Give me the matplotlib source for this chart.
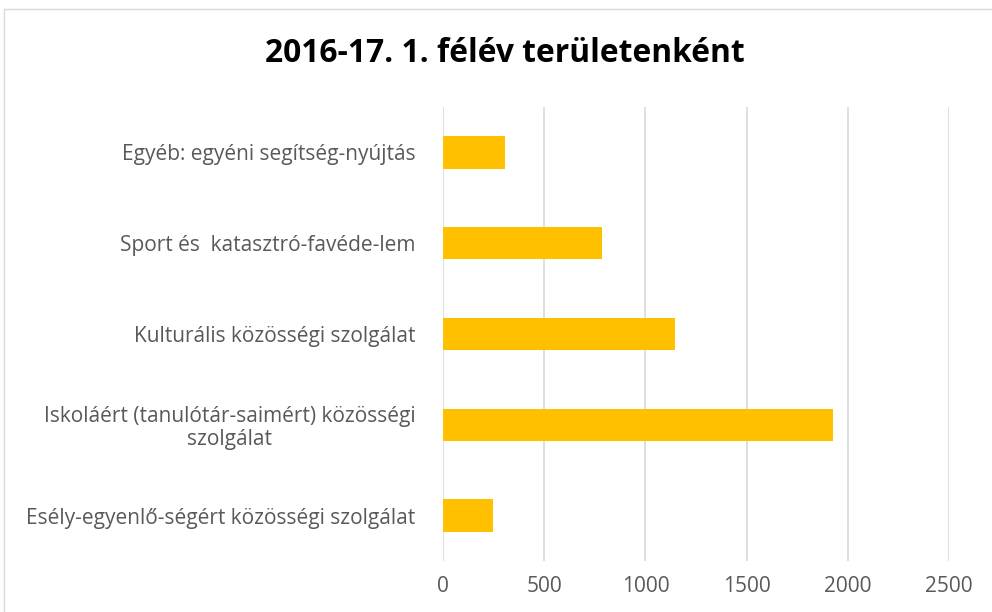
import matplotlib
matplotlib.use("Agg")
import matplotlib.pyplot as plt
from matplotlib.patches import Rectangle

title = "2016-17. 1. félév területenként"
categories = [
    "Esély-egyenlő-ségért közösségi szolgálat",
    "Iskoláért (tanulótár-saimért) közösségi\nszolgálat",
    "Kulturális közösségi szolgálat",
    "Sport és  katasztró-favéde-lem",
    "Egyéb: egyéni segítség-nyújtás",
]
values = [247, 1925, 1148, 785, 307]
xticks = [0, 500, 1000, 1500, 2000, 2500]

W, H = 992, 612
fig = plt.figure(figsize=(W / 100, H / 100), dpi=100)
fig.patch.set_facecolor("white")

# chart border
fig.patches.append(Rectangle((4 / W, -0.05), 1.1, (H - 9) / H + 0.05,
                             transform=fig.transFigure, fill=False,
                             edgecolor="#D9D9D9", linewidth=1.0))

ax = fig.add_axes([443 / W, (H - 561) / H, (949 - 443) / W, (561 - 107) / H])
y = list(range(len(categories)))
ax.barh(y, values, height=0.355, color="#FFC000", zorder=3)
ax.set_xlim(0, 2500)
ax.set_ylim(-0.5, len(categories) - 0.5)
ax.set_xticks(xticks)
ax.set_xticklabels([str(t) for t in xticks])
ax.set_yticks(y)
ax.set_yticklabels(categories, multialignment="center", linespacing=1.1)
ax.grid(axis="x", color="#D9D9D9", linewidth=1.2, zorder=0)
ax.grid(axis="y", visible=False)
for s in ax.spines.values():
    s.set_visible(False)
ax.tick_params(axis="both", length=0, colors="#595959", labelsize=15)
ax.tick_params(axis="y", pad=20)
ax.tick_params(axis="x", pad=11)
for lab in ax.get_xticklabels() + ax.get_yticklabels():
    lab.set_fontfamily("Open Sans")
    lab.set_color("#595959")

fig.text(505 / W, 1 - 53 / H, title, ha="center", va="center",
         fontsize=22.9, fontweight="bold", fontfamily="Open Sans", color="black")

fig.savefig("out.png", dpi=100)
